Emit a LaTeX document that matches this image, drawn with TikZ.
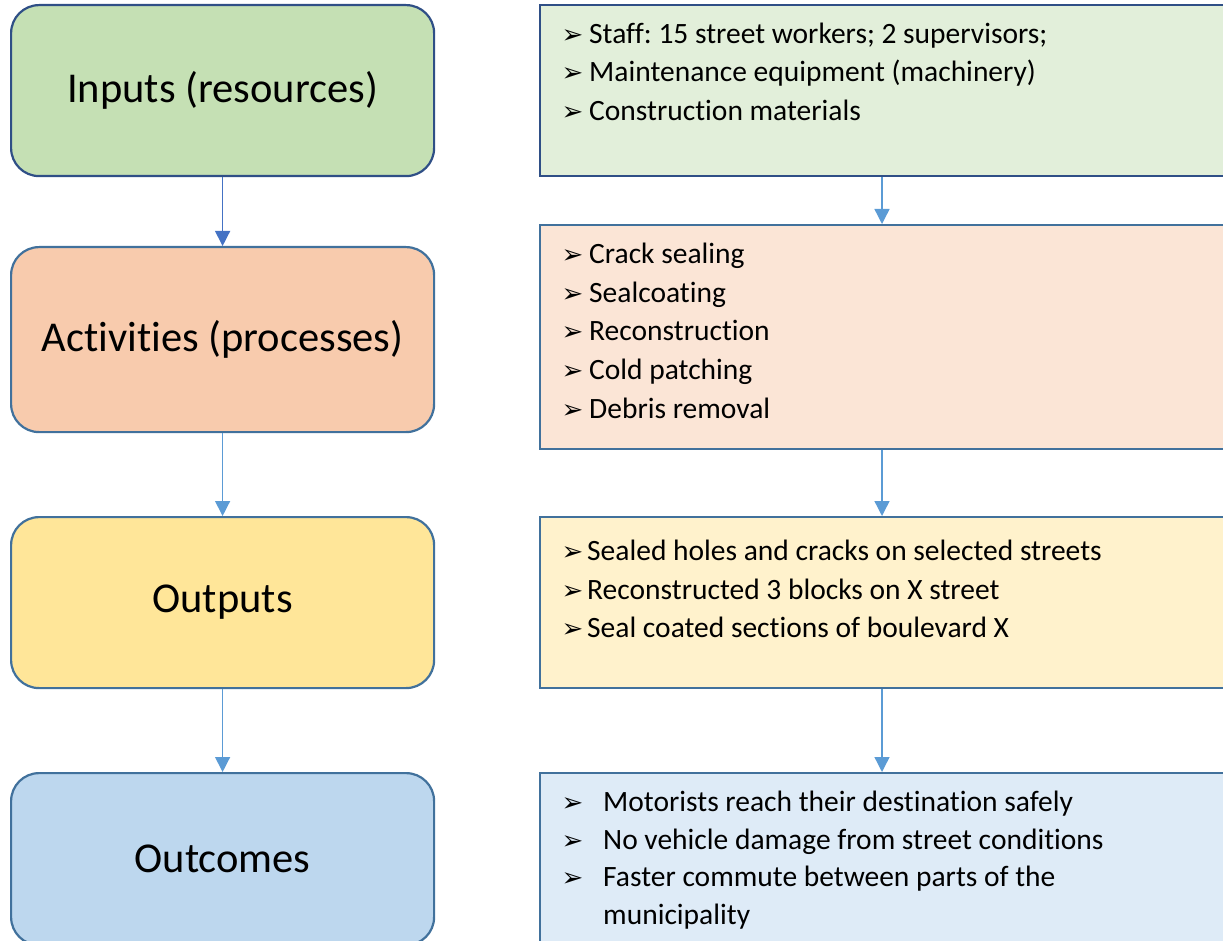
\documentclass[tikz,border=0pt]{standalone}
\usepackage{fontspec}
\setmainfont[Ligatures=NoCommon]{Carlito}
\newfontfamily\symfont{DejaVu Sans}
\usetikzlibrary{arrows.meta}
\frenchspacing

\definecolor{inFill}{HTML}{C5E0B4}
\definecolor{inFillL}{HTML}{E2EFDA}
\definecolor{actFill}{HTML}{F8CBAD}
\definecolor{actFillL}{HTML}{FBE5D6}
\definecolor{outFill}{HTML}{FFE699}
\definecolor{outFillL}{HTML}{FFF2CC}
\definecolor{ocFill}{HTML}{BDD7EE}
\definecolor{ocFillL}{HTML}{DEEBF7}
\definecolor{darkEdge}{HTML}{2F4F86}
\definecolor{edge}{HTML}{41719C}
\definecolor{arrowDark}{HTML}{4472C4}
\definecolor{arrowLight}{HTML}{5B9BD5}

\tikzset{
  stage/.style={draw=edge, line width=2.2pt, rounded corners=28pt, anchor=north west,
    inner sep=0pt, minimum width=423pt, font=\fontsize{42.5}{50}\selectfont},
  detail/.style={draw=edge, line width=2.2pt, anchor=north west, inner sep=0pt,
    minimum width=701pt},
  itemtext/.style={anchor=base west, inner sep=0pt, font=\fontsize{29.5}{34}\selectfont},
  itemmark/.style={anchor=base west, inner sep=0pt, font=\symfont\fontsize{26}{26}\selectfont},
  conn/.style={line width=1.4pt, draw=arrowLight, -{Triangle[length=15pt,width=15pt]}},
}

% one list row: #1 name, #2 x of the text, #3 baseline y, #4 text
\newcommand\itemrow[4]{%
  \node[itemmark] (#1m) at (561.5,#3) {➢};
  \node[itemtext] (#1) at (#2,#3) {#4};
}

\begin{document}
\begin{tikzpicture}[x=1pt,y=-1pt]
\useasboundingbox (0,0) rectangle (1223,941);
\clip (0,0) rectangle (1223,941);

% left column: stages
\node[stage, draw=darkEdge, fill=inFill, minimum height=171pt] (inputs) at (10,4) {Inputs (resources)};
\node[stage, fill=actFill, minimum height=185pt] (activities) at (10,246) {Activities (processes)};
\node[stage, fill=outFill, minimum height=171pt] (outputs) at (10,516) {Outputs};
\node[stage, fill=ocFill, minimum height=172pt] (outcomes) at (10,772) {Outcomes};

% right column: details
\node[detail, draw=darkEdge, fill=inFillL, minimum height=171pt] (rinputs) at (539,4) {};
\node[detail, fill=actFillL, minimum height=224pt] (ractivities) at (539,224) {};
\node[detail, fill=outFillL, minimum height=171pt] (routputs) at (539,516) {};
\node[detail, fill=ocFillL, minimum height=190pt] (routcomes) at (539,772) {};

% connectors
\coordinate (rx) at (882,0);
\draw[conn, draw=arrowDark] (inputs.south) -- (activities.north);
\draw[conn] (activities.south) -- (outputs.north);
\draw[conn] (outputs.south) -- (outcomes.north);
\draw[conn] (rinputs.south -| rx) -- (ractivities.north -| rx);
\draw[conn] (ractivities.south -| rx) -- (routputs.north -| rx);
\draw[conn] (routputs.south -| rx) -- (routcomes.north -| rx);

% item lists
\itemrow{ri1}{589}{43.5}{Staff: 15 street workers; 2 supervisors;}
\itemrow{ri2}{589}{82}{Maintenance equipment (machinery)}
\itemrow{ri3}{589}{120.5}{Construction materials}

\itemrow{ra1}{589}{263.5}{Crack sealing}
\itemrow{ra2}{589}{302}{Sealcoating}
\itemrow{ra3}{589}{340.5}{Reconstruction}
\itemrow{ra4}{589}{379}{Cold patching}
\itemrow{ra5}{589}{418}{Debris removal}

\itemrow{ro1}{587}{560.5}{Sealed holes and cracks on selected streets}
\itemrow{ro2}{587}{599}{Reconstructed 3 blocks on X street}
\itemrow{ro3}{587}{637.5}{Seal coated sections of boulevard X}

\itemrow{rc1}{603}{811.5}{Motorists reach their destination safely}
\itemrow{rc2}{603}{849}{No vehicle damage from street conditions}
\itemrow{rc3}{603}{886.5}{Faster commute between parts of the}
\node[itemtext] (rc4) at (603,924) {municipality};
\end{tikzpicture}
\end{document}
